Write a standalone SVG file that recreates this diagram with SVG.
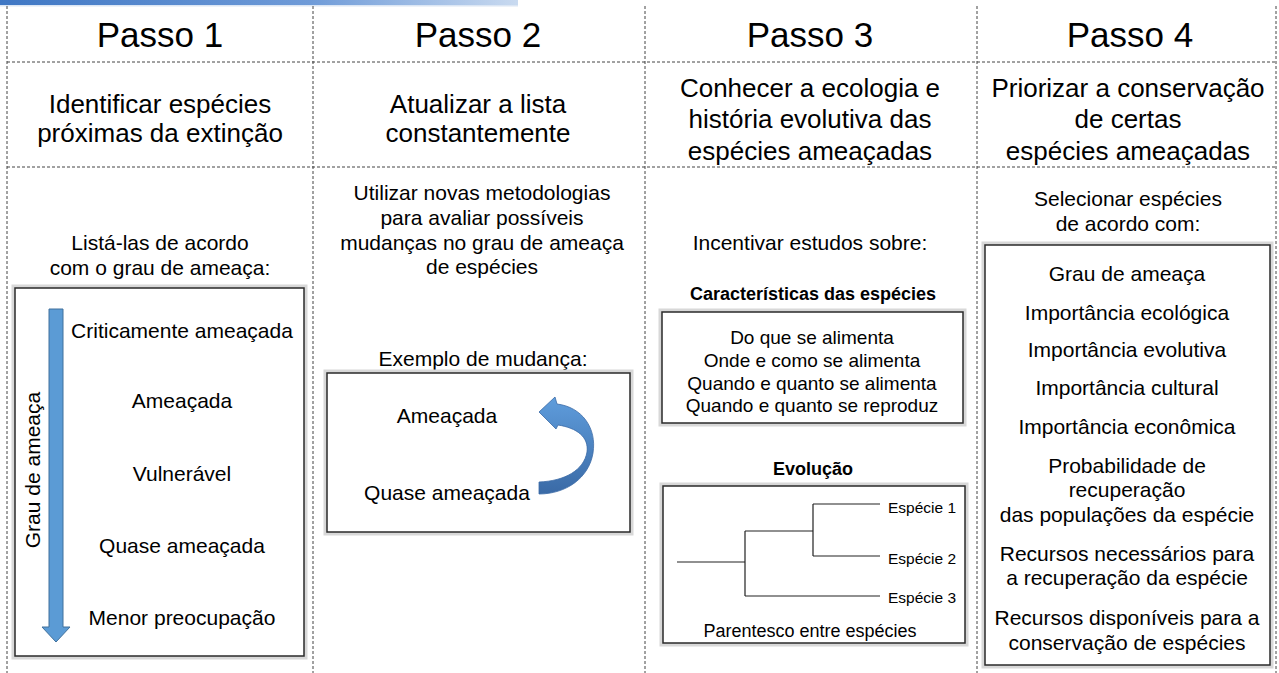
<svg xmlns="http://www.w3.org/2000/svg" width="1279" height="673" viewBox="0 0 1279 673">
<defs>
<linearGradient id="topbar" x1="0" y1="0" x2="1" y2="0">
<stop offset="0" stop-color="#3f77c4"/>
<stop offset="0.6" stop-color="#6f9bd8"/>
<stop offset="1" stop-color="#c9daf0"/>
</linearGradient>
<linearGradient id="curveGrad" x1="0" y1="0" x2="0" y2="1">
<stop offset="0" stop-color="#5f9ddc"/>
<stop offset="1" stop-color="#3a6aa6"/>
</linearGradient>
<style>
text{font-family:"Liberation Sans",Arial,sans-serif;fill:#000;text-anchor:middle}
.title{font-size:35px}
.sub{font-size:26px}
.body{font-size:21px}
.small{font-size:19px}
.bold{font-size:18px;font-weight:bold}
.tiny{font-size:15.5px;text-anchor:start}
.div{stroke:#444;stroke-width:1;stroke-dasharray:3 2;fill:none}
.glow{fill:none;stroke:#d8d8d8;stroke-width:7}
.frame{fill:#fff;stroke:#2a2a2a;stroke-width:1.5}
.tree{stroke:#222;stroke-width:1.2;fill:none}
</style>
</defs>
<rect width="1279" height="673" fill="#fff"/>
<rect x="0" y="0" width="518" height="5" fill="url(#topbar)"/>
<rect x="0" y="5" width="518" height="1.5" fill="#dbe6f4"/>

<g id="connectors">
<line class="div" x1="7" y1="6" x2="7" y2="673"/>
<line class="div" x1="313" y1="6" x2="313" y2="673"/>
<line class="div" x1="645" y1="6" x2="645" y2="673"/>
<line class="div" x1="977" y1="6" x2="977" y2="673"/>
<line class="div" x1="1276" y1="6" x2="1276" y2="673"/>
<line class="div" x1="7" y1="62" x2="1276" y2="62"/>
<line class="div" x1="7" y1="167" x2="1276" y2="167"/>
</g>

<g id="passo1">
<text class="title" x="160" y="47">Passo 1</text>
<text class="sub" x="160" y="113">Identificar espécies</text>
<text class="sub" x="160" y="142">próximas da extinção</text>
<text class="body" x="160" y="250">Listá-las de acordo</text>
<text class="body" x="160" y="275">com o grau de ameaça:</text>
<rect class="glow" x="15" y="288" width="289" height="368"/>
<rect class="frame" x="15" y="288" width="289" height="368"/>
<path d="M49,309 L63,309 L63,627 L70,627 L56,642 L42,627 L49,627 Z" fill="#5b9bd5" stroke="#41719c" stroke-width="1"/>
<text class="body" transform="translate(40,470) rotate(-90)" x="0" y="0">Grau de ameaça</text>
<text class="body" x="182" y="337.5">Criticamente ameaçada</text>
<text class="body" x="182" y="407.5">Ameaçada</text>
<text class="body" x="182" y="480.5">Vulnerável</text>
<text class="body" x="182" y="552.5">Quase ameaçada</text>
<text class="body" x="182" y="624.5">Menor preocupação</text>
</g>

<g id="passo2">
<text class="title" x="478" y="47">Passo 2</text>
<text class="sub" x="478" y="113">Atualizar a lista</text>
<text class="sub" x="478" y="142">constantemente</text>
<text class="body" x="482" y="200">Utilizar novas metodologias</text>
<text class="body" x="482" y="225">para avaliar possíveis</text>
<text class="body" x="482" y="250">mudanças no grau de ameaça</text>
<text class="body" x="482" y="274">de espécies</text>
<text class="body" x="483" y="365.5">Exemplo de mudança:</text>
<rect class="glow" x="327" y="373" width="303" height="159"/>
<rect class="frame" x="327" y="373" width="303" height="159"/>
<text class="body" x="447" y="422.5">Ameaçada</text>
<text class="body" x="447" y="499.5">Quase ameaçada</text>
<path d="M539,482 C565,481 584,470 587,452 C589,437 577,428 558,425 L556,429 L539,412 L555,397 L557,404 C582,407 597,428 593,453 C589,478 566,494 539,494 Z" fill="url(#curveGrad)" stroke="#3a6aa6" stroke-width="0.8"/>
</g>

<g id="passo3">
<text class="title" x="810" y="47">Passo 3</text>
<text class="sub" x="810" y="97">Conhecer a ecologia e</text>
<text class="sub" x="810" y="128">história evolutiva das</text>
<text class="sub" x="810" y="160">espécies ameaçadas</text>
<text class="body" x="810" y="249.5">Incentivar estudos sobre:</text>
<text class="bold" x="813" y="300">Características das espécies</text>
<rect class="glow" x="662" y="312" width="301" height="111"/>
<rect class="frame" x="662" y="312" width="301" height="111"/>
<text class="small" x="812" y="344">Do que se alimenta</text>
<text class="small" x="812" y="367">Onde e como se alimenta</text>
<text class="small" x="812" y="390">Quando e quanto se alimenta</text>
<text class="small" x="812" y="412">Quando e quanto se reproduz</text>
<text class="bold" x="813" y="474.5">Evolução</text>
<rect class="glow" x="663" y="486" width="302" height="157"/>
<rect class="frame" x="663" y="486" width="302" height="157"/>
<path class="tree" d="M677,562 H745 M745,531 V596 M745,531 H813 M813,504 V556 M813,504 H880 M813,556 H880 M745,596 H880"/>
<text class="tiny" x="888" y="512.5">Espécie 1</text>
<text class="tiny" x="888" y="563.5">Espécie 2</text>
<text class="tiny" x="888" y="602.5">Espécie 3</text>
<text style="font-size:18px" x="810" y="636.5">Parentesco entre espécies</text>
</g>

<g id="passo4">
<text class="title" x="1130" y="47">Passo 4</text>
<text class="sub" x="1128" y="97">Priorizar a conservação</text>
<text class="sub" x="1128" y="128">de certas</text>
<text class="sub" x="1128" y="160">espécies ameaçadas</text>
<text class="body" x="1128" y="205.5">Selecionar espécies</text>
<text class="body" x="1128" y="230.5">de acordo com:</text>
<rect class="glow" x="985" y="245" width="285" height="420"/>
<rect class="frame" x="985" y="245" width="285" height="420"/>
<text class="body" x="1127" y="280.5">Grau de ameaça</text>
<text class="body" x="1127" y="319.5">Importância ecológica</text>
<text class="body" x="1127" y="356.5">Importância evolutiva</text>
<text class="body" x="1127" y="394.5">Importância cultural</text>
<text class="body" x="1127" y="433.5">Importância econômica</text>
<text class="body" x="1127" y="472.5">Probabilidade de</text>
<text class="body" x="1127" y="496.5">recuperação</text>
<text class="body" x="1127" y="521.5">das populações da espécie</text>
<text class="body" x="1127" y="560.5">Recursos necessários para</text>
<text class="body" x="1127" y="584.5">a recuperação da espécie</text>
<text class="body" x="1127" y="624.5">Recursos disponíveis para a</text>
<text class="body" x="1127" y="649.5">conservação de espécies</text>
</g>
</svg>
